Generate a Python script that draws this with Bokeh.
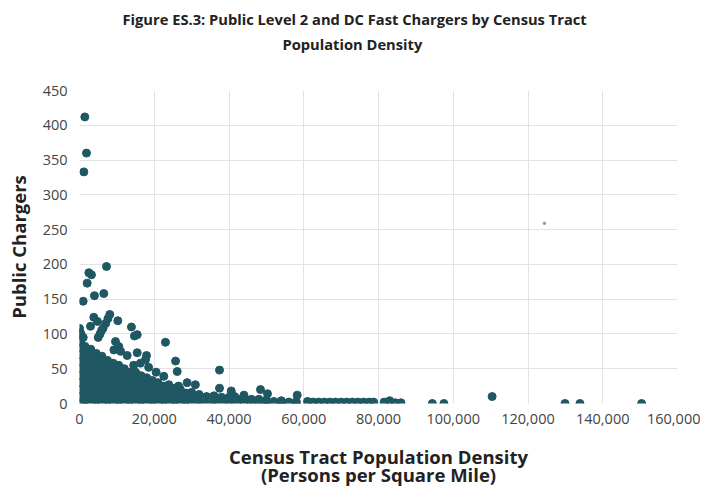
from bokeh.plotting import figure
from bokeh.models import Title, Range1d, NumeralTickFormatter, FixedTicker
from bokeh.embed import file_html
from bokeh.resources import INLINE

# ---- data ----
# scattered census tracts (density, chargers)
outlier_x = [1420, 1870, 1160, 7220, 2500, 3200, 2050, 980, 4000, 6500,
             3830, 0, 200, 2940, 7600, 8100, 7000, 6300, 10250, 5500,
             13900, 15440, 14700, 9630, 10500, 9200, 12760, 17930, 17660, 15440,
             23000, 25700, 26140, 22560, 37460, 37460, 40600, 48430, 23900, 26500,
             28800, 31000, 16300, 18500, 20500, 14500, 11000, 400, 1000, 5000,
             50300, 58250, 44000, 41500, 35900, 61000, 4800, 5900]
outlier_y = [412, 360, 333, 197, 188, 185, 173, 147, 155, 158,
             124, 108, 102, 111, 122, 128, 115, 108, 119, 100,
             110, 99, 97, 89, 82, 77, 69, 69, 63, 73,
             88, 61, 46, 39, 48, 22, 18, 20, 27, 25,
             30, 27, 58, 52, 45, 55, 75, 100, 95, 95,
             14, 12, 12, 10, 10, 3, 118, 105]

# dense mass of tracts near the origin, read column by column
blob_columns = [
    (300,   [0, 10, 20, 30, 40, 50, 60, 70, 80, 88]),
    (1500,  [5, 15, 25, 35, 45, 55, 65, 75, 82]),
    (3000,  [0, 10, 20, 30, 40, 50, 60, 70, 78]),
    (4500,  [5, 15, 25, 35, 45, 55, 65, 72]),
    (6000,  [0, 10, 20, 30, 40, 50, 60, 68]),
    (7500,  [5, 15, 25, 35, 45, 55, 62]),
    (9000,  [0, 10, 20, 30, 40, 50, 58]),
    (10500, [5, 15, 25, 35, 45, 55]),
    (12000, [0, 10, 20, 30, 40, 50]),
    (13500, [5, 15, 25, 35, 45]),
    (15000, [0, 10, 20, 30, 40, 45]),
    (16500, [5, 15, 25, 35, 40]),
    (18000, [0, 10, 20, 30, 37]),
    (19500, [5, 15, 25, 33]),
    (21000, [0, 10, 20, 30]),
    (22500, [5, 15, 25]),
    (24000, [0, 10, 20, 24]),
    (25500, [5, 15, 22]),
    (27000, [0, 10, 20]),
    (28500, [5, 15]),
    (30000, [0, 10, 16]),
    (32000, [5, 13]),
    (34000, [0, 10]),
    (36000, [5, 11]),
    (38000, [0, 9]),
    (40000, [4, 9]),
    (42000, [0, 7]),
    (44000, [3, 7]),
    (46000, [0, 6]),
    (48000, [3, 6]),
    (50000, [0, 5]),
    (52000, [3]),
    (54000, [0, 4]),
    (56000, [2]),
    (58000, [0, 3]),
]
# thin run of tracts beyond 60,000
tail_x = [62500, 64000, 65500, 67000, 68500, 70000, 71500, 73000, 74500, 76000,
          77500, 78700, 81500, 83000, 84500, 86000, 94400, 97500, 110400, 129900,
          133900, 150400]
tail_y = [2, 2, 2, 2, 2, 2, 2, 2, 2, 2,
          2, 2, 2, 4, 1, 1, 0, 0, 10, 0,
          0, 0]

stray_x = [124400]
stray_y = [259]

x_ticks = [0, 20000, 40000, 60000, 80000, 100000, 120000, 140000, 160000]
y_ticks = [0, 50, 100, 150, 200, 250, 300, 350, 400, 450]

title_line1 = "Figure ES.3: Public Level 2 and DC Fast Chargers by Census Tract"
title_line2 = "Population Density"
x_label = "Census Tract Population Density\n(Persons per Square Mile)"
y_label = "Public Chargers"

# ---- build ----
blob_x = [c for c, ys in blob_columns for _ in ys]
blob_y = [y for c, ys in blob_columns for y in ys]

DOT = "#1f5763"
FONT = "Open Sans"
TXT = "#222222"

p = figure(width=700, height=490, output_backend="svg", toolbar_location=None,
           x_range=Range1d(0, 160000), y_range=Range1d(0, 450),
           min_border_left=79, min_border_right=23, min_border_top=90,
           min_border_bottom=86, title=None)
p.outline_line_color = None
p.background_fill_color = "white"
p.border_fill_color = "white"

p.scatter(blob_x, blob_y, size=8, color=DOT)
p.scatter(tail_x, tail_y, size=8, color=DOT)
p.scatter(outlier_x, outlier_y, size=8, color=DOT)
p.scatter(stray_x, stray_y, size=2.5, color="#9a9a9a")

p.xaxis.ticker = FixedTicker(ticks=x_ticks)
p.yaxis.ticker = FixedTicker(ticks=y_ticks)
p.xaxis.formatter = NumeralTickFormatter(format="0,0")
for ax in (p.xaxis, p.yaxis):
    ax.axis_line_color = None
    ax.major_tick_line_color = None
    ax.minor_tick_line_color = None
    ax.major_tick_out = 0
    ax.major_tick_in = 0
    ax.minor_tick_out = 0
    ax.major_label_text_font = FONT
    ax.major_label_text_font_size = "14.5px"
    ax.major_label_text_color = "#444444"
    ax.axis_label_text_font = FONT
    ax.axis_label_text_font_style = "bold"
    ax.axis_label_text_font_size = "18.5px"
    ax.axis_label_text_color = TXT
p.xaxis.axis_label_text_line_height = 0.75
p.xaxis.major_label_text_line_height = 0.8
p.xaxis.major_label_standoff = 10
p.yaxis.major_label_standoff = 12
p.xaxis.axis_label = x_label
p.yaxis.axis_label = y_label
p.xaxis.axis_label_standoff = 17
p.yaxis.axis_label_standoff = 9

p.xgrid.ticker = FixedTicker(ticks=x_ticks)
p.ygrid.ticker = FixedTicker(ticks=y_ticks)
p.grid.grid_line_color = "#e3e3e3"
p.grid.grid_line_width = 1

# title block: a blank spacer next to the frame, then the two title lines
p.add_layout(Title(text=" ", text_font_size="1px", standoff=34), "above")
p.add_layout(Title(text=title_line2, align="left", offset=203, text_font=FONT,
                   text_font_size="14.7px", text_font_style="bold",
                   text_color=TXT, standoff=0), "above")
p.add_layout(Title(text=title_line1, align="left", offset=43, text_font=FONT,
                   text_font_size="14.7px", text_font_style="bold",
                   text_color=TXT, standoff=6), "above")

open("out.html", "w").write(file_html(p, INLINE))
